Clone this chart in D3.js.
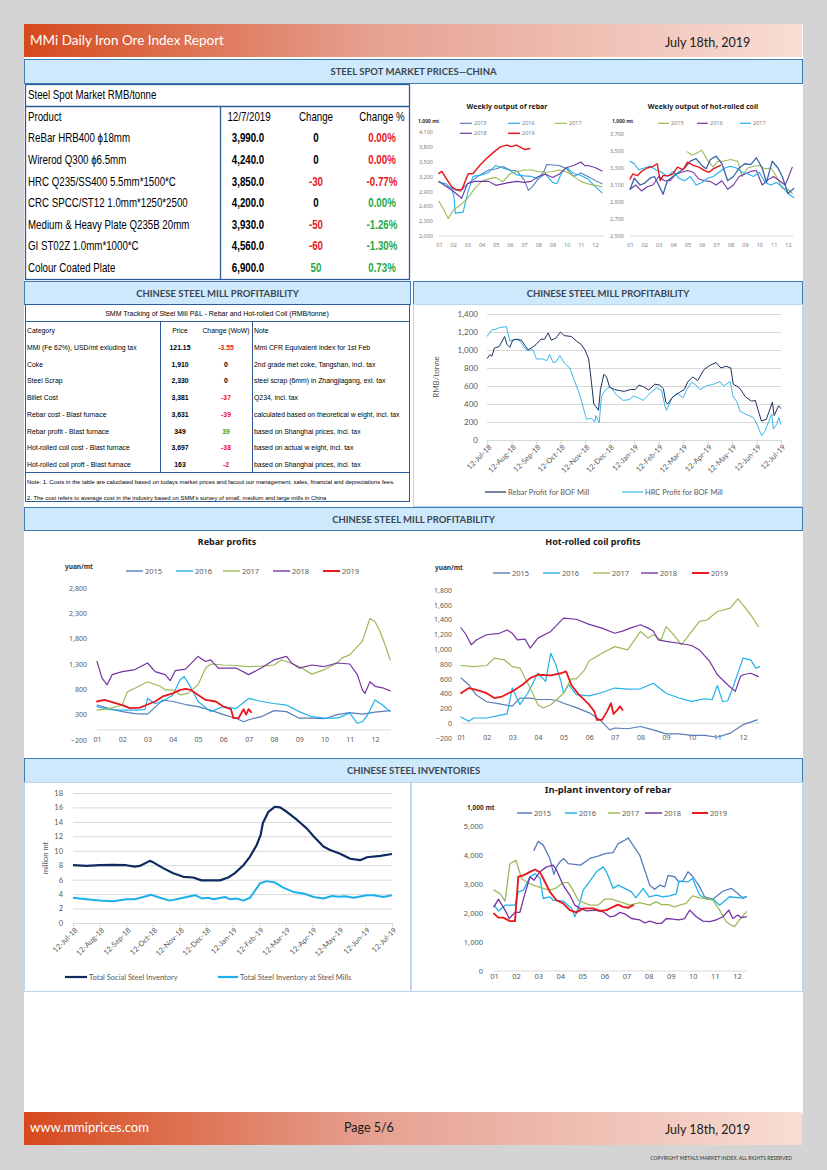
<!DOCTYPE html>
<html>
<head>
<meta charset="utf-8">
<script src="https://d3js.org/d3.v7.min.js"></script>
<style>
  body { margin: 0; background: #d4d4d4; }
  svg { display: block; }
</style>
</head>
<body>
<div id="page"></div>
<script>
// ---- spot market table ----
const spotProducts = ["ReBar HRB400 \u03d518mm", "Wirerod Q300 \u03d56.5mm", "HRC Q235/SS400 5.5mm*1500*C",
  "CRC SPCC/ST12 1.0mm*1250*2500", "Medium & Heavy Plate Q235B 20mm", "GI ST02Z 1.0mm*1000*C", "Colour Coated Plate"];
const spotPrices = ["3,990.0", "4,240.0", "3,850.0", "4,200.0", "3,930.0", "4,560.0", "6,900.0"];
const spotChanges = [0, 0, -30, 0, -50, -60, 50];
const spotChangePct = ["0.00%", "0.00%", "-0.77%", "0.00%", "-1.26%", "-1.30%", "0.73%"];
const spotPctUp = [false, false, false, true, true, true, true];

// ---- mill P&L table ----
const plCategories = ["MMi (Fe 62%), USD/mt exluding tax", "Coke", "Steel Scrap", "Billet Cost",
  "Rebar cost - Blast furnace", "Rebar profit - Blast furnace", "Hot-rolled coil cost - Blast furnace",
  "Hot-rolled coil proft - Blast furnace"];
const plPrices = ["121.15", "1,910", "2,330", "3,381", "3,631", "349", "3,697", "163"];
const plChanges = ["-3.55", "0", "0", "-37", "-39", "39", "-38", "-2"];
const plNotes = ["Mmi CFR Equivalent index for 1st Feb", "2nd grade met coke, Tangshan, incl. tax",
  "steel scrap (6mm) in Zhangjiagang, exl. tax", "Q234, incl. tax",
  "calculated based on theoretical w eight, incl. tax", "based on Shanghai prices, incl. tax",
  "based on actual w eight, incl. tax", "based on Shanghai prices, incl. tax"];

// ---- shared tick labels ----
const monthLabels = ["01", "02", "03", "04", "05", "06", "07", "08", "09", "10", "11", "12"];
const dateLabels = ["12-Jul-18", "12-Aug-18", "12-Sep-18", "12-Oct-18", "12-Nov-18", "12-Dec-18",
  "12-Jan-19", "12-Feb-19", "12-Mar-19", "12-Apr-19", "12-May-19", "12-Jun-19", "12-Jul-19"];

// ---- weekly output of rebar [month, 1,000 mt] ----
const wkRebarTicks = [2000, 2300, 2600, 2900, 3200, 3500, 3800, 4100];
const wkRebar2015 = [[1,3100],[1.5,3000],[2,2950],[2.5,2900],[3,3050],[3.5,3150],[4,3250],[4.5,3330],[5,3350],[5.5,3400],[6,3330],[6.5,3310],[7,3130],[7.3,2920],[7.6,3000],[8,3150],[8.4,3300],[8.6,3440],[9,3430],[9.5,3420],[10,3350],[10.5,3200],[11,3270],[11.5,3200],[12,3120],[12.5,3050]];
const wkRebar2016 = [[1,3080],[1.5,3050],[1.9,2950],[2.05,2800],[2.15,2460],[2.7,2480],[3.05,2900],[3.4,3200],[4,3230],[4.5,3280],[5,3420],[5.5,3370],[6,3320],[6.5,3230],[7,3210],[7.5,3200],[8,3150],[8.5,3250],[9,3080],[9.3,3050],[9.7,3300],[10,3380],[10.5,3260],[11,3220],[11.5,3150],[12,3000],[12.5,2870]];
const wkRebar2017 = [[1,2700],[1.3,2550],[1.65,2350],[2,2520],[2.5,2620],[3,2750],[3.5,2950],[4,3100],[4.5,3150],[5,3180],[5.5,3090],[6,3250],[6.5,3300],[7,3330],[7.5,3330],[8,3300],[8.5,3280],[9,3300],[9.5,3330],[10,3290],[10.5,3200],[11,3100],[11.5,3050],[12,3020],[12.5,2990]];
const wkRebar2018 = [[1,3100],[1.5,3000],[2,2900],[2.6,2760],[3,3050],[3.5,3100],[4,3100],[4.5,3100],[5,3020],[5.5,3050],[6,3080],[6.5,3100],[7,3080],[7.5,3100],[8,3200],[8.5,3250],[9,3180],[9.5,3250],[10,3380],[10.5,3420],[11,3490],[11.3,3410],[11.5,3420],[12,3380],[12.5,3310]];
const wkRebar2019 = [[1,3260],[1.2,3300],[1.5,3160],[1.9,2990],[2.2,2930],[2.6,2930],[2.75,3030],[3.05,3250],[3.4,3260],[3.9,3430],[4.35,3560],[4.9,3700],[5.3,3790],[5.75,3830],[6.1,3800],[6.45,3830],[6.8,3780],[7.05,3740],[7.4,3760]];

// ---- weekly output of hot-rolled coil [month, 1,000 mt] ----
const wkHrcTicks = [2500, 2700, 2900, 3100, 3300, 3500, 3700];
const wkHrc2015 = [[5,3490],[5.3,3450],[5.6,3470],[6,3510],[6.4,3390],[6.8,3310],[7.1,3380],[7.5,3380],[8,3400],[8.5,3380],[8.8,3200],[9.2,3300],[9.6,3320],[10,3330],[10.4,3290],[10.8,3300],[11.2,3200],[11.6,3060],[12,3050],[12.3,3000]];
const wkHrc2016 = [[1,3050],[1.4,3100],[1.8,3030],[2.2,3080],[2.6,3100],[3,3200],[3.4,3150],[3.8,3150],[4.2,3230],[4.6,3250],[5,3270],[5.4,3250],[5.8,3170],[6.2,3150],[6.6,3140],[7,3100],[7.4,3150],[7.8,3050],[8.2,3100],[8.6,3200],[9,3230],[9.4,3260],[9.8,3270],[10.2,3100],[10.6,3160],[11,3200],[11.4,3150],[11.8,3100],[12,3180],[12.3,3310]];
const wkHrc2017 = [[1,3380],[1.3,3350],[1.6,3280],[2,3300],[2.4,3320],[2.8,3280],[3.2,3250],[3.6,3200],[4,3260],[4.4,3180],[4.8,3150],[5.2,3200],[5.6,3100],[6,3130],[6.4,3180],[6.8,3200],[7.2,3250],[7.6,3300],[8,3320],[8.4,3300],[8.8,3250],[9.2,3230],[9.6,3200],[10,3250],[10.4,3130],[10.8,3100],[11.2,3130],[11.6,3080],[12,3000],[12.4,2950]];
const wkHrc2018 = [[1,3050],[1.3,3180],[1.7,3100],[2,3120],[2.4,3180],[2.7,3200],[3,3100],[3.3,2990],[3.6,3150],[4,3200],[4.4,3250],[4.8,3300],[5.2,3380],[5.6,3410],[6,3330],[6.3,3290],[6.6,3400],[7,3440],[7.4,3350],[7.8,3150],[8.2,3200],[8.6,3300],[9,3350],[9.4,3340],[9.8,3420],[10.2,3300],[10.5,3130],[10.9,3380],[11.3,3300],[11.6,3200],[12,3000],[12.4,3060]];
const wkHrc2019 = [[1,3170],[1.2,3230],[1.5,3210],[1.8,3260],[2.2,3300],[2.6,3320],[2.9,3350],[3.1,3150],[3.3,3210],[3.7,3210],[4,3230],[4.3,3310],[4.7,3280],[5,3370],[5.4,3330],[5.8,3310],[6.2,3270],[6.5,3250],[6.8,3290],[7.3,3330]];

// ---- BOF mill profit [months after 12-Jul-18, RMB/tonne] ----
const bofTicks = [0, 200, 400, 600, 800, 1000, 1200, 1400];
const rebarBof = [[0,905],[0.12,950],[0.2,930],[0.3,1020],[0.5,1040],[0.62,1100],[0.72,1150],[0.82,1060],[0.93,1030],[1.05,1110],[1.2,1120],[1.4,1110],[1.55,1050],[1.68,1000],[1.85,1030],[2,1060],[2.2,1120],[2.35,1120],[2.5,1190],[2.62,1110],[2.8,1130],[3,1200],[3.15,1160],[3.45,1150],[3.65,1100],[3.85,1060],[4,1000],[4.15,900],[4.26,650],[4.36,400],[4.45,370],[4.55,330],[4.63,560],[4.77,730],[4.88,700],[5,590],[5.2,560],[5.4,550],[5.6,540],[5.85,560],[6.05,560],[6.2,610],[6.4,590],[6.6,555],[6.85,620],[7.05,610],[7.2,570],[7.3,420],[7.38,400],[7.55,470],[7.8,520],[8.05,560],[8.2,650],[8.4,700],[8.6,660],[8.85,780],[9.1,830],[9.35,860],[9.55,800],[9.75,820],[9.95,800],[10.05,620],[10.3,580],[10.55,480],[10.8,430],[10.95,440],[11.2,210],[11.4,230],[11.65,420],[11.72,270],[11.9,380],[12,350]];
const hrcBof = [[0,1150],[0.18,1220],[0.35,1230],[0.52,1250],[0.79,1260],[0.93,1100],[1.2,1120],[1.34,1100],[1.61,1000],[1.88,1000],[2.02,900],[2.29,900],[2.43,880],[2.56,950],[2.7,860],[2.83,870],[2.97,940],[3.17,850],[3.38,800],[3.65,600],[3.79,500],[4.06,230],[4.26,240],[4.4,200],[4.44,270],[4.58,190],[4.67,480],[4.81,550],[5.01,590],[5.15,550],[5.29,500],[5.56,440],[5.83,450],[5.97,490],[6.24,460],[6.38,440],[6.65,520],[6.92,580],[7.13,550],[7.26,380],[7.33,330],[7.54,460],[7.74,520],[8.01,470],[8.15,560],[8.35,640],[8.49,620],[8.69,560],[8.96,600],[9.24,620],[9.51,650],[9.65,600],[9.92,650],[10.05,480],[10.19,430],[10.33,320],[10.46,300],[10.87,250],[11.01,180],[11.21,50],[11.35,100],[11.49,200],[11.62,290],[11.69,120],[11.83,180],[11.91,250],[12,170]];

// ---- rebar profits [month, yuan/mt] ----
const rebarProfitTicks = [-200, 300, 800, 1300, 1800, 2300, 2800];
const rp2015 = [[1,490],[1.5,420],[2,360],[2.5,320],[3,310],[3.3,450],[3.6,590],[4,560],[4.5,500],[5,460],[5.5,390],[6,300],[6.5,230],[6.8,160],[7,200],[7.5,260],[8,380],[8.5,360],[9,230],[9.5,230],[10,220],[10.5,300],[11,340],[11.5,310],[12,350],[12.6,380]];
const rp2016 = [[1,460],[1.5,400],[2,390],[2.5,390],[2.9,400],[3,620],[3.3,520],[3.6,560],[4,690],[4.3,1000],[4.45,1050],[4.7,850],[5,560],[5.5,360],[6,460],[6.5,420],[7,620],[7.5,560],[8,520],[8.5,490],[9,360],[9.5,260],[10,230],[10.5,230],[11,330],[11.3,130],[11.5,160],[11.7,290],[12,590],[12.3,490],[12.6,360]];
const rp2017 = [[1,390],[1.5,420],[2,490],[2.2,750],[2.5,820],[3,950],[3.5,860],[3.7,790],[4,790],[4.3,690],[4.6,720],[5,890],[5.3,1220],[5.5,1300],[6,1280],[6.5,1270],[7,1250],[7.5,1260],[8,1280],[8.3,1380],[8.5,1350],[9,1250],[9.5,1100],[10,1190],[10.5,1320],[10.7,1420],[11,1480],[11.5,1750],[11.8,2200],[12,2140],[12.2,1940],[12.4,1680],[12.6,1380]];
const rp2018 = [[1,1350],[1.2,1020],[1.4,890],[1.6,1090],[2,1150],[2.5,1190],[3,1320],[3.3,1150],[3.7,1090],[3.9,970],[4.1,1170],[4.5,1200],[5,1450],[5.3,1350],[5.5,1380],[5.8,1220],[6,1220],[6.5,1220],[7,1090],[7.5,1220],[8,1380],[8.5,1450],[8.7,1320],[9,1220],[9.5,1280],[10,1250],[10.5,1320],[11,1300],[11.3,1090],[11.5,790],[11.6,720],[11.8,950],[12,860],[12.3,830],[12.6,770]];
const rp2019 = [[1,560],[1.3,590],[2,490],[2.3,430],[2.7,440],[3,500],[3.3,560],[3.6,660],[4,720],[4.3,790],[4.5,810],[4.7,790],[5,690],[5.3,590],[5.7,560],[6,460],[6.3,410],[6.4,230],[6.6,230],[6.8,410],[6.9,300],[7,410],[7.1,350]];

// ---- hot-rolled coil profits [month, yuan/mt] ----
const hrcProfitTicks = [-200, 0, 200, 400, 600, 800, 1000, 1200, 1400, 1600, 1800];
const hp2015 = [[1,610],[1.3,520],[1.6,380],[2,290],[2.5,260],[3,230],[3.3,340],[3.7,340],[4,320],[4.5,320],[4.8,300],[5,270],[5.5,210],[6,140],[6.4,50],[6.6,-20],[6.8,-90],[7,-65],[7.5,-75],[8,-45],[8.5,-90],[9,-145],[9.5,-145],[10,-165],[10.5,-165],[11,-190],[11.5,-135],[12,-20],[12.3,15],[12.55,45]];
const hp2016 = [[1,85],[1.3,25],[1.5,70],[2,70],[2.5,105],[2.8,125],[3,475],[3.3,250],[3.6,405],[4,675],[4.3,565],[4.5,945],[4.7,790],[4.9,565],[5,405],[5.2,520],[5.5,385],[6,370],[6.5,415],[7,475],[7.5,460],[8,465],[8.5,540],[9,405],[9.5,340],[10,295],[10.5,330],[10.8,320],[11,510],[11.2,295],[11.4,300],[11.6,475],[11.8,675],[12,880],[12.3,855],[12.5,745],[12.65,765]];
const hp2017 = [[1,780],[1.5,765],[2,780],[2.3,880],[2.7,855],[3,765],[3.3,745],[3.5,610],[3.7,475],[4,250],[4.2,205],[4.5,250],[4.8,340],[5,405],[5.3,600],[5.5,600],[5.8,710],[6,845],[6.5,945],[7,1035],[7.5,990],[8,1240],[8.3,1150],[8.5,1195],[8.8,1125],[9,1305],[9.3,1195],[9.6,1060],[10,1240],[10.3,1375],[10.6,1395],[11,1510],[11.5,1555],[11.8,1680],[12,1600],[12.3,1465],[12.6,1305]];
const hp2018 = [[1,1290],[1.2,1195],[1.4,1060],[1.6,1125],[2,1195],[2.5,1215],[2.8,1260],[3,1215],[3.2,1125],[3.5,1135],[3.7,1015],[4,1150],[4.5,1240],[5,1420],[5.5,1405],[6,1335],[6.5,1285],[7,1215],[7.3,1245],[7.6,1285],[8,1330],[8.3,1285],[8.5,1245],[8.7,1125],[9,1105],[9.5,1080],[10,1050],[10.3,990],[10.7,835],[11,655],[11.4,520],[11.7,430],[11.9,630],[12,655],[12.3,675],[12.6,630]];
const hp2019 = [[1,405],[1.3,475],[1.6,450],[2,405],[2.3,340],[2.6,360],[3,430],[3.4,520],[3.7,610],[4,655],[4.5,645],[4.9,675],[5.1,700],[5.3,520],[5.6,385],[6,250],[6.2,160],[6.3,45],[6.5,45],[6.7,160],[6.85,270],[6.95,125],[7.1,180],[7.2,230],[7.3,180]];

// ---- steel inventories [months after 12-Jul-18, million mt] ----
const invTicks = [0, 2, 4, 6, 8, 10, 12, 14, 16, 18];
const socialInv = [[0,8],[0.5,7.9],[1,8],[1.5,8.05],[2,8],[2.32,7.8],[2.51,7.9],[2.89,8.6],[3.02,8.4],[3.39,7.6],[3.77,6.9],[4.15,6.4],[4.52,6.3],[4.84,5.9],[5.53,5.9],[5.84,6.3],[6.09,6.9],[6.41,8],[6.66,9.2],[6.91,10.8],[7.06,12.2],[7.14,13.8],[7.35,15.4],[7.6,16.1],[7.79,16],[8.04,15.4],[8.42,14.3],[8.79,13.1],[9.05,12],[9.42,10.6],[9.67,10.1],[10.05,9.6],[10.43,8.9],[10.8,8.7],[11.06,9.1],[11.56,9.3],[12,9.55]];
const millsInv = [[0,3.5],[0.5,3.3],[1,3.1],[1.51,3],[2.01,3.3],[2.32,3.3],[2.64,3.6],[2.95,3.9],[3.27,3.5],[3.64,3.1],[4.02,3.4],[4.59,3.85],[4.84,3.4],[5.09,3.5],[5.28,3.3],[5.72,3.6],[5.9,3.3],[6.16,3.4],[6.41,3.1],[6.66,3.5],[7.04,5.5],[7.29,5.8],[7.6,5.6],[7.91,4.9],[8.29,4.3],[8.67,4.1],[9.05,3.6],[9.42,3.4],[9.74,3.75],[9.99,3.65],[10.24,3.7],[10.55,3.5],[11.06,3.85],[11.31,3.85],[11.68,3.6],[12,3.85]];

// ---- in-plant inventory of rebar [month, 1,000 mt] ----
const inPlantTicks = [0, 1000, 2000, 3000, 4000, 5000];
const ip2015 = [[2.81,4160],[3,4470],[3.23,4340],[3.53,3880],[3.71,3330],[3.83,3590],[3.98,3760],[4.16,3880],[4.36,3700],[4.73,3670],[4.92,3650],[5.34,3880],[5.71,3960],[6.02,4050],[6.39,4080],[6.62,4390],[6.92,4510],[7.07,4590],[7.6,3990],[8.05,2960],[8.27,2820],[8.5,2960],[8.73,2900],[8.88,3300],[9.18,3250],[9.37,3070],[9.55,3100],[9.78,3420],[10.01,3250],[10.31,2900],[10.53,2560],[10.91,2480],[11.36,2750],[11.74,2850],[12.04,2670],[12.27,2500],[12.42,2560]];
const ip2016 = [[1,2270],[1.2,2070],[1.5,2270],[1.95,2270],[2.1,2730],[2.33,2790],[2.63,3250],[2.85,3350],[3.08,3210],[3.23,2500],[3.53,2560],[3.68,2440],[4.13,2410],[4.51,2160],[4.66,1870],[4.81,2160],[5.04,2790],[5.34,3100],[5.64,3420],[5.94,3590],[6.09,3420],[6.39,2850],[6.62,2960],[6.92,2850],[7.22,2730],[7.42,2520],[7.75,2850],[8.02,2560],[8.35,2620],[8.65,2560],[8.95,2590],[9.25,2660],[9.37,3100],[9.78,3070],[9.98,3190],[10.31,2620],[10.61,2480],[10.91,2480],[11.21,2270],[11.66,2560],[12.11,2520],[12.42,2560]];
const ip2017 = [[1,2790],[1.27,2670],[1.5,2410],[1.72,3700],[1.99,3820],[2.25,3190],[2.48,3070],[2.78,2960],[3.23,2850],[3.53,2790],[3.83,2870],[4.13,3050],[4.36,3050],[4.58,2790],[4.81,2440],[5.34,2270],[5.71,2270],[6.02,2480],[6.32,2480],[6.62,2410],[7.14,2270],[7.6,2360],[8.05,2270],[8.35,2390],[8.58,2290],[8.88,2290],[9.18,2210],[9.4,2270],[9.7,2330],[9.98,2590],[10.31,2520],[10.61,2500],[10.91,2440],[11.21,2100],[11.51,1700],[11.74,1580],[11.89,1530],[12.11,1760],[12.42,2040]];
const ip2018 = [[1,2210],[1.2,2480],[1.5,2100],[1.69,1810],[1.95,2020],[2.17,2020],[2.4,2670],[2.63,3250],[2.81,3130],[3.08,3420],[3.38,3590],[3.68,3650],[3.83,3480],[4.13,2960],[4.43,2620],[4.66,2270],[4.89,2160],[5.19,2070],[5.56,2100],[5.94,2040],[6.24,1870],[6.47,1900],[6.69,2020],[6.92,1970],[7.22,1810],[7.6,1760],[7.82,1660],[8.05,1720],[8.35,1640],[8.58,1640],[8.8,1810],[9.1,1790],[9.37,1760],[9.63,1810],[9.86,2100],[10.16,1870],[10.46,1720],[10.76,1700],[11.06,1760],[11.36,1870],[11.63,2100],[11.81,1810],[12.04,1930],[12.19,1840],[12.42,1870]];
const ip2019 = [[1,1980],[1.2,1840],[1.42,1840],[1.72,1720],[1.95,1720],[2.1,3250],[2.33,3300],[2.63,3420],[2.85,3500],[3.08,3400],[3.23,3190],[3.53,2730],[3.83,2440],[4.13,2330],[4.43,2100],[4.73,2020],[5.04,2160],[5.49,2160],[5.79,2070],[6.09,2100],[6.39,2210],[6.62,2290],[6.84,2210],[7.07,2180],[7.3,2270]];

const TABLE_FONT = "'Liberation Sans',Arial,sans-serif";
const UI_FONT = "Lato,'Open Sans',sans-serif";
const CHART_FONT = "'Noto Sans','Open Sans',sans-serif";
const C15 = "#5a7cbc", C16 = "#22b1e9", C17 = "#9bbb59", C18 = "#7534a3", C19 = "#e8181d";
const RED = "#e8161d", GREEN = "#1fa84a", BLUE_LINE = "#2e5c9a";

const svg = d3.select("#page").append("svg").attr("width", 827).attr("height", 1170);

const grad = svg.append("defs").append("linearGradient").attr("id", "band");
grad.selectAll("stop")
  .data([[0, "#d64a1d"], [0.45, "#e6a191"], [1, "#f8ddd5"]])
  .enter().append("stop")
  .attr("offset", d => d[0]).attr("stop-color", d => d[1]);

// page
svg.append("rect").attr("x", 24).attr("y", 24).attr("width", 779).attr("height", 1090).attr("fill", "#fff");

// header / footer bands
function band(y, h) {
  svg.append("rect").attr("x", 24).attr("y", y).attr("width", 778).attr("height", h).attr("fill", "url(#band)");
}
band(24, 33);
band(1112, 33);
const ui = svg.append("g").attr("font-family", UI_FONT);
ui.append("text").attr("x", 30).attr("y", 45).attr("font-size", 13.5).attr("fill", "#fff").text("MMi Daily Iron Ore Index Report");
ui.append("text").attr("x", 665).attr("y", 47).attr("font-size", 12.5).attr("fill", "#1a1a1a").text("July 18th, 2019");
ui.append("text").attr("x", 30).attr("y", 1132).attr("font-size", 13).attr("fill", "#fff").text("www.mmiprices.com");
ui.append("text").attr("x", 344).attr("y", 1132).attr("font-size", 12.5).attr("fill", "#1a1a1a").text("Page 5/6");
ui.append("text").attr("x", 665).attr("y", 1134).attr("font-size", 12.5).attr("fill", "#1a1a1a").text("July 18th, 2019");
ui.append("text").attr("x", 792).attr("y", 1160).attr("font-size", 5).attr("text-anchor", "end").attr("fill", "#333")
  .text("COPYRIGHT METALS MARKET INDEX, ALL RIGHTS RESERVED");

// section headers
function sectionHead(x, y, w, h, label) {
  svg.append("rect").attr("x", x).attr("y", y).attr("width", w).attr("height", h)
    .attr("fill", "#cde9fb").attr("stroke", "#3f7cb8").attr("stroke-width", 1);
  svg.append("text").attr("x", x + w / 2).attr("y", y + h / 2 + 3.5).attr("text-anchor", "middle")
    .attr("font-family", UI_FONT).attr("font-weight", "bold").attr("font-size", 9.5).attr("fill", "#3e4652")
    .text(label);
}
sectionHead(24.5, 59.5, 778, 24, "STEEL SPOT MARKET PRICES\u2014CHINA");
sectionHead(24.5, 281.5, 386, 23, "CHINESE STEEL MILL PROFITABILITY");
sectionHead(413.5, 281.5, 389, 23, "CHINESE STEEL MILL PROFITABILITY");
sectionHead(24.5, 507.5, 778, 23, "CHINESE STEEL MILL PROFITABILITY");
sectionHead(24.5, 758.5, 778, 24, "CHINESE STEEL INVENTORIES");

// light chart frames
function frame(x, y, w, h) {
  svg.append("rect").attr("x", x).attr("y", y).attr("width", w).attr("height", h)
    .attr("fill", "none").attr("stroke", "#bcd6ee").attr("stroke-width", 1);
}
frame(413.5, 304.5, 389, 202);
frame(24.5, 782.5, 386, 209);
frame(411.5, 782.5, 391, 209);

// condensed table text: the report uses a narrow face, so squeeze horizontally
function ntext(g, x, y, str, sx, anchor) {
  return g.append("text").attr("transform", `translate(${x},${y}) scale(${sx},1)`)
    .attr("text-anchor", anchor || "start").text(str);
}

// ---- table 1 ----
const S1 = 0.81;
const t1 = svg.append("g").attr("font-family", TABLE_FONT).attr("font-size", 12).attr("fill", "#000");
t1.append("rect").attr("x", 25.5).attr("y", 84.5).attr("width", 384).attr("height", 195)
  .attr("fill", "none").attr("stroke", BLUE_LINE).attr("stroke-width", 1.3);
t1.append("line").attr("x1", 25.5).attr("x2", 409.5).attr("y1", 106.5).attr("y2", 106.5).attr("stroke", BLUE_LINE).attr("stroke-width", 1.3);
t1.append("line").attr("x1", 220.5).attr("x2", 220.5).attr("y1", 106.5).attr("y2", 279.5).attr("stroke", BLUE_LINE).attr("stroke-width", 1.3);
ntext(t1, 28, 99, "Steel Spot Market RMB/tonne", S1);
const rowY = i => 120.7 + 21.6 * i;
ntext(t1, 28, rowY(0), "Product", S1);
ntext(t1, 249, rowY(0), "12/7/2019", S1, "middle");
ntext(t1, 316, rowY(0), "Change", S1, "middle");
ntext(t1, 382, rowY(0), "Change %", S1, "middle");
spotProducts.forEach((p, i) => {
  const y = rowY(i + 1);
  ntext(t1, 28, y, p, S1);
  ntext(t1, 248, y, spotPrices[i], S1, "middle").attr("font-weight", "bold");
  const c = spotChanges[i];
  ntext(t1, 316, y, c, S1, "middle").attr("font-weight", "bold")
    .attr("fill", c < 0 ? RED : c > 0 ? GREEN : "#000");
  ntext(t1, 382, y, spotChangePct[i], S1, "middle").attr("font-weight", "bold")
    .attr("fill", spotPctUp[i] ? GREEN : RED);
});

// ---- table 2 ----
const S2 = 0.86;
const t2 = svg.append("g").attr("font-family", TABLE_FONT).attr("font-size", 8).attr("fill", "#000");
t2.append("rect").attr("x", 25.5).attr("y", 304.5).attr("width", 384).attr("height", 197)
  .attr("fill", "none").attr("stroke", BLUE_LINE).attr("stroke-width", 1);
[321.5, 472.5].forEach(y => t2.append("line").attr("x1", 25.5).attr("x2", 409.5).attr("y1", y).attr("y2", y)
  .attr("stroke", BLUE_LINE).attr("stroke-width", 1));
[160.5, 252.5].forEach(x => t2.append("line").attr("x1", x).attr("x2", x).attr("y1", 321.5).attr("y2", 472.5)
  .attr("stroke", BLUE_LINE).attr("stroke-width", 1));
ntext(t2, 217, 316, "SMM Tracking of Steel Mill P&L - Rebar and Hot-rolled Coil (RMB/tonne)", 0.97, "middle")
  .attr("font-size", 7.2);
const plY = i => 333 + 16.75 * i;
ntext(t2, 27, plY(0), "Category", S2);
ntext(t2, 180, plY(0), "Price", S2, "middle");
ntext(t2, 226, plY(0), "Change (WoW)", S2, "middle");
ntext(t2, 254, plY(0), "Note", S2);
plCategories.forEach((c, i) => {
  const y = plY(i + 1);
  ntext(t2, 27, y, c, S2);
  ntext(t2, 180, y, plPrices[i], S2, "middle").attr("font-weight", "bold");
  const v = +plChanges[i];
  ntext(t2, 226, y, plChanges[i], S2, "middle").attr("font-weight", "bold")
    .attr("fill", v < 0 ? RED : v > 0 ? GREEN : "#000");
  ntext(t2, 254, y, plNotes[i], S2);
});
t2.append("text").attr("x", 27).attr("y", 484).attr("font-size", 5.9)
  .text("Note: 1. Costs in the table are caluclated based on todays market prices and facout our management, sales, financial and depreciations fees.");
t2.append("text").attr("x", 27).attr("y", 500).attr("font-size", 5.9)
  .text("2. The cost refers to average cost in the industry based on SMM\u2019s survey of small, medium and large mills in China");

// ---- chart helpers ----
function styleAxis(a, font, fs, color) {
  a.attr("font-family", font).attr("font-size", fs);
  a.select(".domain").remove();
  a.selectAll("text").attr("fill", color);
}

function legend(g, items, fs, color) {
  const it = g.selectAll(null).data(items).enter().append("g")
    .attr("transform", d => `translate(${d.x},${d.y})`);
  it.append("line").attr("x1", 0).attr("x2", d => d.len)
    .attr("stroke", d => d.color).attr("stroke-width", d => d.w || 1.6);
  it.append("text").attr("x", d => d.len + 2).attr("y", fs * 0.36).attr("font-size", fs)
    .attr("fill", color).text(d => d.label);
}

function yearChart(o) {
  const g = svg.append("g").attr("font-family", o.font);
  const x = d3.scaleLinear().domain([1, 12]).range([o.x1, o.x12]);
  const y = d3.scaleLinear().domain(o.yDomain).range(o.yRange);

  const ya = g.append("g").attr("transform", `translate(${o.x1},0)`)
    .call(d3.axisLeft(y).tickValues(o.yTicks).tickFormat(d3.format(",")).tickSize(0).tickPadding(o.yPad));
  styleAxis(ya, o.font, o.fs, o.color);

  g.append("line").attr("x1", o.x1).attr("x2", o.right).attr("y1", y(o.base)).attr("y2", y(o.base))
    .attr("stroke", "#d9d9d9").attr("stroke-width", 1);

  const xa = g.append("g").attr("transform", `translate(0,${o.monthY})`)
    .call(d3.axisBottom(x).tickValues(d3.range(1, 13)).tickFormat(i => monthLabels[i - 1]).tickSize(0).tickPadding(0));
  styleAxis(xa, o.font, o.fs, o.color);
  xa.selectAll("text").attr("y", 0).attr("dy", "0.35em");

  const line = d3.line().x(d => x(d[0])).y(d => y(d[1]));
  g.selectAll(null).data(o.series).enter().append("path")
    .attr("d", s => line(s.data)).attr("fill", "none")
    .attr("stroke", s => s.color).attr("stroke-width", s => s.w)
    .attr("stroke-linejoin", "round").attr("stroke-linecap", "round");

  g.append("text").attr("x", o.title.x).attr("y", o.title.y).attr("text-anchor", "middle")
    .attr("font-weight", "bold").attr("font-size", o.title.size).attr("fill", "#1a1a1a").text(o.title.text);
  g.append("text").attr("x", o.unit.x).attr("y", o.unit.y).attr("font-size", o.unit.size)
    .attr("font-weight", "bold").attr("fill", "#333").text(o.unit.text);
  legend(g, o.legend, o.legendFs, o.color);
}

function dateChart(o) {
  const g = svg.append("g").attr("font-family", o.font);
  const x = d3.scaleLinear().domain([0, 12]).range([o.x0, o.x12]);
  const y = d3.scaleLinear().domain(o.yDomain).range(o.yRange);

  const ya = g.append("g").attr("transform", `translate(${o.x0},0)`)
    .call(d3.axisLeft(y).tickValues(o.yTicks).tickFormat(d3.format(",")).tickSize(-(o.x12 - o.x0)).tickPadding(o.yPad));
  styleAxis(ya, o.font, o.fs, o.color);
  ya.selectAll("line").attr("stroke", "#d9d9d9");

  const xa = g.append("g").attr("transform", `translate(0,${y(o.yDomain[0])})`)
    .call(d3.axisBottom(x).tickValues(d3.range(0, 13)).tickFormat(i => dateLabels[i]).tickSize(4).tickSizeOuter(0));
  xa.attr("font-family", o.font).attr("font-size", o.xfs);
  xa.select(".domain").attr("stroke", "#d9d9d9");
  xa.selectAll("line").attr("stroke", "#d9d9d9");
  xa.selectAll("text").attr("fill", o.color).attr("y", 0).attr("dy", "0.32em")
    .attr("text-anchor", "end").attr("transform", "translate(3,6) rotate(-45)");

  const line = d3.line().x(d => x(d[0])).y(d => y(d[1]));
  g.selectAll(null).data(o.series).enter().append("path")
    .attr("d", s => line(s.data)).attr("fill", "none")
    .attr("stroke", s => s.color).attr("stroke-width", s => s.w).attr("stroke-linejoin", "round");

  g.append("text").attr("transform", `translate(${o.yTitle.x},${o.yTitle.y}) rotate(-90)`)
    .attr("text-anchor", "middle").attr("font-size", o.fs).attr("fill", o.color).text(o.yTitle.text);
  legend(g, o.legend, o.legendFs, o.color);
}

// ---- weekly output of rebar ----
yearChart({
  font: CHART_FONT, fs: 5.5, color: "#808080",
  x1: 439, x12: 595, right: 604, yDomain: [2000, 4100], yRange: [236, 131.7], yTicks: wkRebarTicks,
  yPad: 6, base: 2000, monthY: 245.5,
  series: [
    { data: wkRebar2015, color: C15, w: 1.1 }, { data: wkRebar2016, color: C16, w: 1.1 },
    { data: wkRebar2017, color: C17, w: 1.1 }, { data: wkRebar2018, color: C18, w: 1.1 },
    { data: wkRebar2019, color: C19, w: 1.5 }],
  title: { text: "Weekly output of rebar", x: 507, y: 108.5, size: 7 },
  unit: { text: "1,000 mt", x: 418, y: 122.5, size: 5 },
  legendFs: 5.5,
  legend: [
    { label: "2015", color: C15, x: 460, y: 123.3, len: 12, w: 1.2 },
    { label: "2016", color: C16, x: 508, y: 123.3, len: 12, w: 1.2 },
    { label: "2017", color: C17, x: 555, y: 123.3, len: 12, w: 1.2 },
    { label: "2018", color: C18, x: 460, y: 133.3, len: 12, w: 1.2 },
    { label: "2019", color: C19, x: 508, y: 133.3, len: 12, w: 1.5 }]
});

// ---- weekly output of hot-rolled coil ----
const HRC18 = "#3b62a8";
yearChart({
  font: CHART_FONT, fs: 5.5, color: "#808080",
  x1: 630, x12: 788, right: 793, yDomain: [2500, 3700], yRange: [236, 134], yTicks: wkHrcTicks,
  yPad: 6, base: 2500, monthY: 245.5,
  series: [
    { data: wkHrc2015, color: C17, w: 1.1 }, { data: wkHrc2016, color: C18, w: 1.1 },
    { data: wkHrc2017, color: C16, w: 1.1 }, { data: wkHrc2018, color: HRC18, w: 1.3 },
    { data: wkHrc2019, color: C19, w: 1.4 }],
  title: { text: "Weekly output of hot-rolled coil", x: 703, y: 108.5, size: 7 },
  unit: { text: "1,000 mt", x: 612, y: 122.5, size: 5 },
  legendFs: 5.5,
  legend: [
    { label: "2015", color: C17, x: 658, y: 123.3, len: 11, w: 1.2 },
    { label: "2016", color: C18, x: 697, y: 123.3, len: 11, w: 1.2 },
    { label: "2017", color: C16, x: 740, y: 123.3, len: 11, w: 1.2 }]
});

// ---- BOF mill profitability ----
dateChart({
  font: UI_FONT, fs: 8, xfs: 7.5, color: "#595959",
  x0: 487, x12: 781, yDomain: [0, 1400], yRange: [440, 314], yTicks: bofTicks, yPad: 9,
  series: [{ data: hrcBof, color: "#3ab8ea", w: 1 }, { data: rebarBof, color: "#1c2f5e", w: 1 }],
  yTitle: { text: "RMB/tonne", x: 439, y: 377 },
  legendFs: 7.5,
  legend: [
    { label: "Rebar Profit for BOF Mill", color: "#1c2f5e", x: 485, y: 492, len: 21, w: 1.2 },
    { label: "HRC Profit for BOF Mill", color: "#3ab8ea", x: 622, y: 492, len: 21, w: 1.2 }]
});

// ---- rebar profits ----
yearChart({
  font: CHART_FONT, fs: 7, color: "#595959",
  x1: 97, x12: 375, right: 391, yDomain: [-200, 2800], yRange: [740, 588], yTicks: rebarProfitTicks,
  yPad: 10, base: 0, monthY: 740,
  series: [
    { data: rp2015, color: C15, w: 1.2 }, { data: rp2016, color: C16, w: 1.2 },
    { data: rp2017, color: C17, w: 1.2 }, { data: rp2018, color: C18, w: 1.2 },
    { data: rp2019, color: C19, w: 1.8 }],
  title: { text: "Rebar profits", x: 227, y: 545, size: 9 },
  unit: { text: "yuan/mt", x: 65, y: 569, size: 6.5 },
  legendFs: 7.5,
  legend: [
    { label: "2015", color: C15, x: 126, y: 571, len: 17, w: 1.4 },
    { label: "2016", color: C16, x: 176, y: 571, len: 17, w: 1.4 },
    { label: "2017", color: C17, x: 223, y: 571, len: 17, w: 1.4 },
    { label: "2018", color: C18, x: 273, y: 571, len: 17, w: 1.4 },
    { label: "2019", color: C19, x: 323, y: 571, len: 17, w: 2 }]
});

// ---- hot-rolled coil profits ----
yearChart({
  font: CHART_FONT, fs: 7, color: "#595959",
  x1: 461, x12: 743, right: 760, yDomain: [-200, 1800], yRange: [738, 590], yTicks: hrcProfitTicks,
  yPad: 9, base: 0, monthY: 738,
  series: [
    { data: hp2015, color: C15, w: 1.2 }, { data: hp2016, color: C16, w: 1.2 },
    { data: hp2017, color: C17, w: 1.2 }, { data: hp2018, color: C18, w: 1.2 },
    { data: hp2019, color: C19, w: 1.8 }],
  title: { text: "Hot-rolled coil profits", x: 593, y: 545, size: 9 },
  unit: { text: "yuan/mt", x: 435, y: 570, size: 6.5 },
  legendFs: 7.5,
  legend: [
    { label: "2015", color: C15, x: 493, y: 573, len: 17, w: 1.4 },
    { label: "2016", color: C16, x: 543, y: 573, len: 17, w: 1.4 },
    { label: "2017", color: C17, x: 593, y: 573, len: 17, w: 1.4 },
    { label: "2018", color: C18, x: 641, y: 573, len: 17, w: 1.4 },
    { label: "2019", color: C19, x: 692, y: 573, len: 17, w: 2 }]
});

// ---- steel inventories ----
dateChart({
  font: UI_FONT, fs: 7.5, xfs: 7.5, color: "#595959",
  x0: 73, x12: 392, yDomain: [0, 18], yRange: [923, 793], yTicks: invTicks, yPad: 10,
  series: [{ data: millsInv, color: "#1cb0ea", w: 2 }, { data: socialInv, color: "#0e2a5e", w: 2.2 }],
  yTitle: { text: "million mt", x: 48, y: 858 },
  legendFs: 7.5,
  legend: [
    { label: "Total Social Steel Inventory", color: "#0e2a5e", x: 65, y: 977, len: 22, w: 2.2 },
    { label: "Total Steel Inventory at Steel Mills", color: "#1cb0ea", x: 218, y: 977, len: 20, w: 2.2 }]
});

// ---- in-plant inventory of rebar ----
yearChart({
  font: CHART_FONT, fs: 7.5, color: "#595959",
  x1: 494, x12: 737, right: 747, yDomain: [0, 5000], yRange: [971, 826], yTicks: inPlantTicks,
  yPad: 11, base: 0, monthY: 976,
  series: [
    { data: ip2015, color: C15, w: 1.3 }, { data: ip2016, color: C16, w: 1.3 },
    { data: ip2017, color: C17, w: 1.3 }, { data: ip2018, color: C18, w: 1.3 },
    { data: ip2019, color: C19, w: 1.9 }],
  title: { text: "In-plant inventory of rebar", x: 608, y: 793, size: 9.5 },
  unit: { text: "1,000 mt", x: 467, y: 810, size: 6.5 },
  legendFs: 7.5,
  legend: [
    { label: "2015", color: C15, x: 517, y: 813, len: 15, w: 1.5 },
    { label: "2016", color: C16, x: 565, y: 813, len: 12, w: 1.5 },
    { label: "2017", color: C17, x: 608, y: 813, len: 12, w: 1.5 },
    { label: "2018", color: C18, x: 645, y: 813, len: 17, w: 1.5 },
    { label: "2019", color: C19, x: 692, y: 813, len: 16, w: 2 }]
});
</script>
</body>
</html>
